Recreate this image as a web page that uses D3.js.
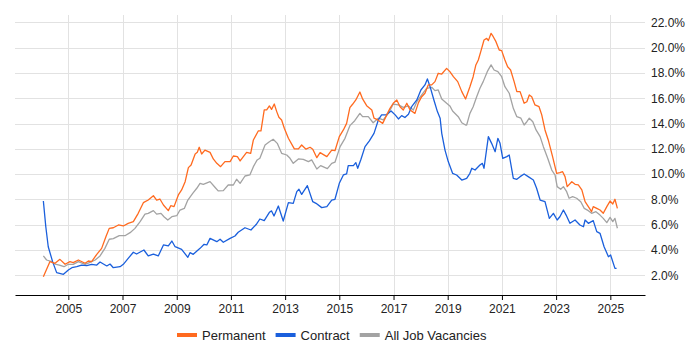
<!DOCTYPE html>
<html>
<head>
<meta charset="utf-8">
<script src="https://cdn.jsdelivr.net/npm/d3@7"></script>
<style>
  body { margin: 0; background: #fff; }
  svg { font-family: "Liberation Sans", Arial, sans-serif; }
</style>
</head>
<body>
<div id="vis"></div>
<script>
// values: [decimal year, percent of vacancies]
var permanent = [
  [2004.08,1.89],[2004.32,3.08],[2004.51,2.95],[2004.69,3.26],[2004.88,2.87],[2005.06,3.08],[2005.18,3.00],
  [2005.37,3.21],[2005.62,2.95],[2005.74,3.13],[2005.86,3.08],[2006.05,3.66],[2006.23,4.13],[2006.39,5.06],
  [2006.51,5.71],[2006.66,5.76],[2006.85,5.98],[2007.03,5.90],[2007.21,6.11],[2007.40,6.24],[2007.58,6.90],
  [2007.77,7.74],[2007.95,7.95],[2008.14,8.29],[2008.26,7.95],[2008.38,8.03],[2008.51,7.56],[2008.69,7.11],
  [2008.78,7.50],[2008.90,7.43],[2009.06,8.35],[2009.18,8.75],[2009.31,9.40],[2009.43,10.51],[2009.53,10.72],
  [2009.68,11.59],[2009.76,11.72],[2009.83,12.12],[2009.92,11.59],[2010.04,11.90],[2010.23,11.72],[2010.35,11.20],
  [2010.48,10.85],[2010.62,10.59],[2010.78,10.99],[2010.97,10.99],[2011.09,11.43],[2011.24,11.38],[2011.34,11.04],
  [2011.58,11.72],[2011.73,11.64],[2011.83,12.70],[2012.01,13.41],[2012.11,13.41],[2012.23,15.07],[2012.32,15.07],
  [2012.42,15.39],[2012.50,15.12],[2012.60,15.54],[2012.69,14.94],[2012.77,14.49],[2012.87,14.28],[2012.97,13.62],
  [2013.12,12.83],[2013.34,11.99],[2013.49,11.99],[2013.61,12.30],[2013.77,11.97],[2013.92,12.12],[2014.02,11.97],
  [2014.17,11.30],[2014.29,11.70],[2014.54,11.38],[2014.72,11.90],[2014.84,11.85],[2015.00,12.96],[2015.15,13.49],
  [2015.27,14.01],[2015.39,15.25],[2015.49,15.52],[2015.61,15.86],[2015.76,16.49],[2015.86,15.94],[2016.01,15.41],
  [2016.20,15.07],[2016.28,14.42],[2016.38,14.33],[2016.60,14.01],[2016.75,14.68],[2016.87,15.20],[2016.99,15.60],
  [2017.12,15.86],[2017.24,15.33],[2017.36,15.07],[2017.49,15.60],[2017.61,15.07],[2017.79,14.80],[2017.92,15.65],
  [2018.04,16.12],[2018.16,16.39],[2018.28,17.05],[2018.41,17.05],[2018.53,17.31],[2018.65,17.97],[2018.78,17.91],
  [2018.96,18.36],[2019.08,18.10],[2019.21,17.70],[2019.37,17.31],[2019.52,16.52],[2019.66,15.94],[2019.82,16.91],
  [2019.94,17.70],[2020.04,18.63],[2020.13,19.02],[2020.22,19.68],[2020.34,20.60],[2020.44,20.73],[2020.50,20.55],
  [2020.60,21.13],[2020.68,20.86],[2020.78,20.47],[2020.90,19.81],[2020.99,19.76],[2021.11,19.02],[2021.21,18.49],
  [2021.32,18.23],[2021.45,17.31],[2021.55,16.52],[2021.67,16.52],[2021.82,15.60],[2021.92,15.72],[2022.01,16.26],
  [2022.10,16.12],[2022.22,15.47],[2022.37,15.33],[2022.47,14.68],[2022.59,13.49],[2022.71,12.70],[2022.87,11.38],
  [2023.02,10.06],[2023.14,10.11],[2023.24,10.19],[2023.33,9.80],[2023.41,9.01],[2023.58,9.40],[2023.70,9.19],
  [2023.82,9.14],[2023.95,8.75],[2024.07,7.82],[2024.19,7.43],[2024.31,7.03],[2024.37,7.43],[2024.50,7.29],
  [2024.62,7.16],[2024.74,6.90],[2024.87,7.43],[2024.99,7.87],[2025.09,7.64],[2025.17,8.01],[2025.26,7.29]
];

var contract = [
  [2004.08,7.87],[2004.17,5.84],[2004.26,4.26],[2004.42,3.08],[2004.57,2.21],[2004.82,2.08],[2005.00,2.42],
  [2005.13,2.60],[2005.31,2.68],[2005.49,2.81],[2005.68,2.76],[2005.86,2.87],[2006.05,2.81],[2006.17,3.05],
  [2006.42,2.74],[2006.54,2.89],[2006.66,2.60],[2006.91,2.68],[2007.03,2.87],[2007.21,3.34],[2007.40,3.82],
  [2007.52,3.68],[2007.79,4.00],[2007.95,3.53],[2008.14,3.68],[2008.32,3.53],[2008.51,4.40],[2008.69,4.32],
  [2008.82,4.71],[2008.94,4.26],[2009.18,4.05],[2009.41,3.42],[2009.49,3.79],[2009.61,3.66],[2009.86,4.13],
  [2010.01,4.45],[2010.11,4.40],[2010.23,4.92],[2010.48,4.66],[2010.60,4.85],[2010.72,4.61],[2010.97,4.92],
  [2011.15,5.11],[2011.27,5.40],[2011.52,5.76],[2011.74,5.58],[2011.95,6.06],[2012.07,6.45],[2012.23,6.32],
  [2012.42,6.98],[2012.50,7.09],[2012.59,6.69],[2012.75,7.48],[2012.93,6.29],[2013.12,7.74],[2013.30,7.69],
  [2013.43,8.61],[2013.51,8.80],[2013.61,8.40],[2013.82,9.09],[2014.02,7.82],[2014.14,7.69],[2014.35,7.35],
  [2014.54,7.43],[2014.72,7.95],[2014.84,8.01],[2015.00,9.27],[2015.15,9.93],[2015.27,10.01],[2015.33,10.67],
  [2015.52,10.67],[2015.61,10.91],[2015.68,10.46],[2015.80,11.17],[2015.95,12.17],[2016.11,12.62],[2016.28,13.22],
  [2016.44,14.28],[2016.56,14.68],[2016.72,14.68],[2016.91,14.99],[2017.06,14.68],[2017.18,14.36],[2017.30,14.62],
  [2017.42,14.47],[2017.55,14.73],[2017.67,15.33],[2017.86,15.86],[2018.01,16.65],[2018.16,17.05],[2018.25,17.52],
  [2018.35,16.91],[2018.49,15.86],[2018.62,14.94],[2018.72,14.42],[2018.78,13.22],[2018.90,11.90],[2019.02,10.99],
  [2019.18,10.06],[2019.33,9.93],[2019.52,9.53],[2019.70,9.67],[2019.82,10.06],[2019.89,10.46],[2020.01,10.32],
  [2020.19,10.72],[2020.28,10.85],[2020.34,10.46],[2020.50,12.96],[2020.62,12.43],[2020.75,11.77],[2020.85,12.83],
  [2020.93,12.43],[2021.03,11.25],[2021.18,11.38],[2021.27,11.51],[2021.42,9.67],[2021.55,9.59],[2021.67,9.80],
  [2021.82,10.01],[2021.97,9.80],[2022.16,9.53],[2022.28,8.88],[2022.41,7.95],[2022.59,7.82],[2022.75,6.50],
  [2022.90,6.90],[2023.04,6.37],[2023.14,6.63],[2023.27,7.16],[2023.37,6.76],[2023.51,6.11],[2023.70,6.37],
  [2023.88,5.98],[2024.01,5.84],[2024.07,6.37],[2024.19,6.11],[2024.37,6.32],[2024.50,5.45],[2024.62,5.32],
  [2024.77,4.26],[2024.93,3.47],[2025.01,3.61],[2025.17,2.55],[2025.23,2.55]
];

var allJobs = [
  [2004.08,3.53],[2004.20,3.21],[2004.39,3.08],[2004.51,2.89],[2004.67,2.81],[2004.84,2.68],[2005.00,2.87],
  [2005.18,2.87],[2005.37,3.08],[2005.62,2.87],[2005.80,3.02],[2005.99,3.21],[2006.17,3.53],[2006.35,4.13],
  [2006.51,4.85],[2006.66,4.90],[2006.88,5.13],[2007.09,5.13],[2007.28,5.37],[2007.46,5.71],[2007.65,6.24],
  [2007.83,6.84],[2007.95,6.90],[2008.14,7.11],[2008.26,6.84],[2008.42,6.90],[2008.53,6.63],[2008.67,6.37],
  [2008.82,6.63],[2009.00,6.71],[2009.12,7.16],[2009.28,7.29],[2009.41,7.95],[2009.59,8.48],[2009.74,8.88],
  [2009.86,9.27],[2009.98,9.19],[2010.23,9.40],[2010.41,8.96],[2010.53,8.67],[2010.72,8.69],[2010.90,9.14],
  [2011.09,9.14],[2011.21,9.59],[2011.34,9.27],[2011.52,9.85],[2011.70,9.93],[2011.83,10.59],[2011.97,11.12],
  [2012.07,11.25],[2012.26,12.30],[2012.42,12.56],[2012.56,12.75],[2012.71,12.43],[2012.87,11.64],[2013.06,11.51],
  [2013.18,11.25],[2013.30,10.85],[2013.49,11.20],[2013.67,11.17],[2013.86,10.99],[2013.98,11.12],[2014.17,10.40],
  [2014.31,10.67],[2014.56,10.43],[2014.72,10.85],[2014.84,10.94],[2015.03,12.17],[2015.21,12.83],[2015.39,13.83],
  [2015.57,14.22],[2015.76,14.80],[2015.86,14.54],[2016.07,14.54],[2016.25,14.06],[2016.44,14.42],[2016.62,14.28],
  [2016.81,14.80],[2016.99,15.54],[2017.18,15.47],[2017.36,15.28],[2017.55,15.39],[2017.73,15.07],[2017.86,15.72],
  [2018.04,16.26],[2018.22,16.78],[2018.41,16.86],[2018.53,16.60],[2018.65,16.65],[2018.78,15.94],[2018.96,15.60],
  [2019.08,15.39],[2019.18,14.99],[2019.39,14.54],[2019.52,14.06],[2019.66,13.88],[2019.70,13.88],[2019.82,14.80],
  [2019.94,15.33],[2020.07,16.12],[2020.19,16.78],[2020.31,17.31],[2020.46,18.10],[2020.60,18.63],[2020.71,18.23],
  [2020.85,18.10],[2020.99,17.70],[2021.11,16.91],[2021.27,16.39],[2021.42,15.20],[2021.55,14.54],[2021.70,14.42],
  [2021.82,13.88],[2021.92,14.14],[2022.01,14.42],[2022.14,14.14],[2022.26,13.49],[2022.41,12.96],[2022.53,12.17],
  [2022.69,11.25],[2022.84,10.32],[2022.96,9.93],[2023.04,9.01],[2023.17,8.80],[2023.27,9.01],[2023.39,8.61],
  [2023.48,8.09],[2023.61,8.22],[2023.76,8.09],[2023.91,7.82],[2024.04,7.29],[2024.19,7.11],[2024.31,6.90],
  [2024.47,7.03],[2024.62,6.76],[2024.74,6.50],[2024.87,6.16],[2024.99,6.58],[2025.09,6.24],[2025.17,6.50],
  [2025.26,5.72]
];

var yTicks = [2, 4, 6, 8, 10, 12, 14, 16, 18, 20, 22];
var xTickYears = [2005, 2007, 2009, 2011, 2013, 2015, 2017, 2019, 2021, 2023, 2025];
var seriesNames = ["Permanent", "Contract", "All Job Vacancies"];
var seriesColors = ["#ff6a1f", "#1a5fdc", "#a3a3a3"];

// decimal year -> Date
function toDate(yv) {
  var yr = Math.floor(yv);
  var start = new Date(yr, 0, 1), end = new Date(yr + 1, 0, 1);
  return new Date(+start + (yv - yr) * (end - start));
}

var width = 700, height = 350;
var plot = {left: 15, right: 645, top: 15, bottom: 295};

var svg = d3.select("#vis").append("svg")
  .attr("width", width)
  .attr("height", height);

var x = d3.scaleTime()
  .domain([toDate(2003.033), toDate(2026.28)])
  .range([plot.left, plot.right]);

var y = d3.scaleLinear()
  .domain([0.443, 22.577])
  .range([plot.bottom, plot.top]);

// grid
svg.append("g").selectAll("line")
  .data(yTicks)
  .enter().append("line")
  .attr("x1", plot.left).attr("x2", plot.right)
  .attr("y1", function(d) { return Math.round(y(d)) + 0.5; })
  .attr("y2", function(d) { return Math.round(y(d)) + 0.5; })
  .attr("stroke", "#e2e2e2");

svg.append("g").selectAll("line")
  .data(xTickYears)
  .enter().append("line")
  .attr("x1", function(d) { return Math.round(x(toDate(d))) + 0.5; })
  .attr("x2", function(d) { return Math.round(x(toDate(d))) + 0.5; })
  .attr("y1", plot.top).attr("y2", plot.bottom)
  .attr("stroke", "#e2e2e2");

// x axis
var xAxis = svg.append("g")
  .attr("transform", "translate(0," + plot.bottom + ")")
  .call(d3.axisBottom(x)
    .tickValues(xTickYears.map(toDate))
    .tickFormat(d3.timeFormat("%Y"))
    .tickSize(5)
    .tickSizeOuter(0));
xAxis.select(".domain").attr("stroke", "#000");
xAxis.selectAll(".tick line").attr("stroke", "#000");
xAxis.selectAll("text")
  .attr("font-size", "12px")
  .attr("fill", "#222")
  .attr("y", 9);

// y axis on the right, labels only
var yAxis = svg.append("g")
  .attr("transform", "translate(" + (plot.right + 6) + ",0)")
  .call(d3.axisRight(y)
    .tickValues(yTicks)
    .tickFormat(function(d) { return d.toFixed(1) + "%"; })
    .tickSize(0)
    .tickPadding(0));
yAxis.select(".domain").remove();
yAxis.selectAll("text")
  .attr("font-size", "12px")
  .attr("fill", "#222");

// lines
var line = d3.line()
  .x(function(d) { return x(toDate(d[0])); })
  .y(function(d) { return y(d[1]); });

var seriesData = [permanent, contract, allJobs];
[2, 1, 0].forEach(function(i) {
  svg.append("path")
    .datum(seriesData[i])
    .attr("fill", "none")
    .attr("stroke", seriesColors[i])
    .attr("stroke-width", 1.3)
    .attr("stroke-linejoin", "round")
    .attr("d", line);
});

// legend
var legend = svg.append("g");
var lx = 177;
seriesNames.forEach(function(name, i) {
  legend.append("rect")
    .attr("x", lx).attr("y", 333)
    .attr("width", 20).attr("height", 4)
    .attr("fill", seriesColors[i]);
  var t = legend.append("text")
    .attr("x", lx + 25).attr("y", 339.5)
    .attr("font-size", "13px")
    .attr("fill", "#222")
    .text(name);
  lx += 25 + t.node().getComputedTextLength() + 10;
});
</script>
</body>
</html>
